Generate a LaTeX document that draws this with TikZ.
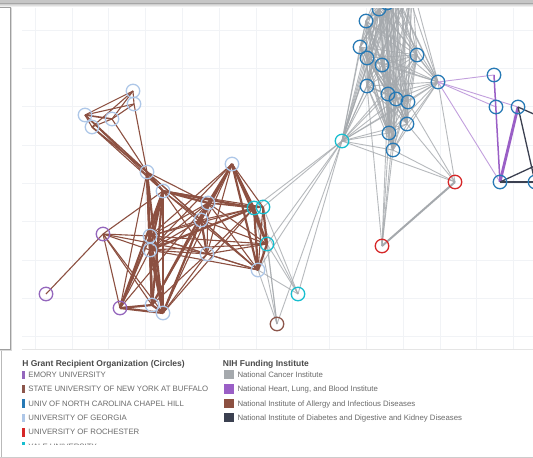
\documentclass[tikz,border=0pt]{standalone}
\usepackage{fontspec}
\setmainfont{Liberation Sans}
\usetikzlibrary{backgrounds}

\definecolor{emoryc}{HTML}{9467BD}
\definecolor{buffc}{HTML}{8C564B}
\definecolor{uncc}{HTML}{2679B5}
\definecolor{ugac}{HTML}{AEC7E8}
\definecolor{urc}{HTML}{D62728}
\definecolor{yalec}{HTML}{17BECF}
\definecolor{ncic}{HTML}{A5A9AD}
\definecolor{nhlbic}{HTML}{9A5FC6}
\definecolor{niaidc}{HTML}{8C5041}
\definecolor{niddkc}{HTML}{3B4050}
\definecolor{gridc}{HTML}{F1F3F6}
\definecolor{itemc}{HTML}{6B6B6B}
\definecolor{headc}{HTML}{4A4A4A}

\begin{document}
\begin{tikzpicture}[x=1pt,y=-1pt,line cap=round,
  org/.style={circle,draw,line width=1.3pt,minimum size=13.5pt,inner sep=0pt},
  emory/.style={org,draw=emoryc},
  buff/.style={org,draw=buffc},
  unc/.style={org,draw=uncc},
  uga/.style={org,draw=ugac},
  roch/.style={org,draw=urc},
  yale/.style={org,draw=yalec},
  nci/.style={ncic,line width=0.9pt,opacity=0.8},
  nciw/.style={ncic,line width=2pt},
  niaid/.style={niaidc,line width=1.1pt},
  niaidm/.style={niaidc,line width=1.6pt},
  niaidw/.style={niaidc,line width=2.2pt},
  nhlbi/.style={nhlbic!60,line width=0.9pt},
  nhlbiw/.style={nhlbic,line width=2.8pt},
  niddk/.style={niddkc,line width=1.3pt},
  legitem/.style={anchor=base west,inner sep=0pt,text=itemc,font=\fontsize{7.8}{9}\selectfont},
  leghead/.style={anchor=base west,inner sep=0pt,text=headc,font=\fontsize{8.5}{10}\selectfont\bfseries}]
\useasboundingbox (0,0) rectangle (533,458);

\begin{pgfonlayer}{background}
\fill[white] (0,0) rectangle (533,458);
\foreach \gx in {0,...,13} \draw[gridc,line width=0.6pt] ({35+36.8*\gx},5) -- ({35+36.8*\gx},349.5);
\foreach \gy in {0,...,8} \draw[gridc,line width=0.6pt] (22,{30+38.3*\gy}) -- (533,{30+38.3*\gy});
\draw[gray!20,line width=0.7pt] (22,349.5) -- (533,349.5);
\end{pgfonlayer}

\node[uga] (ga1) at (133,91) {};
\node[uga] (ga2) at (134,104) {};
\node[uga] (ga3) at (85,115) {};
\node[uga] (ga4) at (92,127) {};
\node[uga] (ga5) at (112,119) {};
\node[uga] (ga6) at (147,172) {};
\node[uga] (ga7) at (163,191) {};
\node[uga] (ga8) at (232,164) {};
\node[uga] (ga9) at (208,203) {};
\node[uga] (ga10) at (201,220) {};
\node[uga] (ga11) at (150,236) {};
\node[uga] (ga12) at (150,250) {};
\node[uga] (ga13) at (207,254) {};
\node[uga] (ga14) at (258,270) {};
\node[uga] (ga15) at (152,305) {};
\node[uga] (ga16) at (163,313) {};
\node[emory] (em1) at (103,234) {};
\node[emory] (em2) at (46,294) {};
\node[emory] (em3) at (120,308) {};
\node[yale] (yl1) at (254,208) {};
\node[yale] (yl2) at (263,207) {};
\node[yale] (yl3) at (267,244) {};
\node[yale] (yl4) at (298,294) {};
\node[yale] (yl5) at (342,141) {};
\node[buff] (sb1) at (277,324) {};
\node[unc] (nc1) at (379,9) {};
\node[unc] (nc2) at (387,3) {};
\node[unc] (nc3) at (366,21) {};
\node[unc] (nc4) at (360,47) {};
\node[unc] (nc5) at (367,58) {};
\node[unc] (nc6) at (382,65) {};
\node[unc] (nc7) at (417,55) {};
\node[unc] (nc8) at (367,86) {};
\node[unc] (nc9) at (438,82) {};
\node[unc] (nc10) at (388,94) {};
\node[unc] (nc11) at (396,99) {};
\node[unc] (nc12) at (408,102) {};
\node[unc] (nc13) at (407,124) {};
\node[unc] (nc14) at (389,133) {};
\node[unc] (nc15) at (393,150) {};
\node[unc] (nc16) at (494,75) {};
\node[unc] (nc17) at (496,107) {};
\node[unc] (nc18) at (518,107) {};
\node[unc] (nc19) at (500,182) {};
\node[unc] (nc20) at (535,182) {};
\node[roch] (ur1) at (455,182) {};
\node[roch] (ur2) at (382,246) {};
\coordinate (ncx1) at (385,-25);
\coordinate (ncx2) at (400,-30);
\coordinate (ncx3) at (412,-15);
\coordinate (ncx4) at (393,-12);
\coordinate (ndx1) at (565,128);
\coordinate (ndx2) at (565,152);

\begin{pgfonlayer}{background}
\begin{scope}
\clip (11,5) rectangle (533,349.5);
\foreach \a [count=\i] in {ncx1,ncx2,ncx3,ncx4,nc1,nc2,nc3,nc4,nc5,nc6,nc7,nc8,nc9,nc10,nc11,nc12,nc13,nc14,nc15,yl5}
  \foreach \b [count=\j] in {ncx1,ncx2,ncx3,ncx4,nc1,nc2,nc3,nc4,nc5,nc6,nc7,nc8,nc9,nc10,nc11,nc12,nc13,nc14,nc15,yl5}
    {\ifnum\j>\i \draw[nci] (\a.center) -- (\b.center);\fi}
\foreach \a/\b in {yl5/yl1,yl5/yl2,yl5/yl3,yl5/ga14,yl5/yl4,yl5/sb1,yl1/sb1,yl2/sb1,yl2/yl4,
    yl3/sb1,yl3/yl4,ga14/sb1,ga14/yl4,yl1/yl4,yl5/ur1,nc15/ur1,nc13/ur1,nc9/ur1,nc12/ur1,
    ur2/nc14,ur2/nc15,ur2/nc10,ur2/nc11,ur2/nc8}
  \draw[nci] (\a.center) -- (\b.center);
\draw[nciw] (ur1.center) -- (ur2.center);
\foreach \a/\b in {ga1/ga3,ga1/ga4,ga1/ga5,ga1/ga2,ga2/ga3,ga2/ga5,ga3/ga4,ga4/ga5,ga2/ga6,ga5/ga6,
    ga3/ga7,ga4/ga7,
    em2/em1,em1/ga7,em1/ga11,em1/ga12,em1/em3,em1/ga15,em1/ga16,em1/ga13,em3/ga12,em3/ga6,em3/ga9,
    ga6/ga9,ga6/ga10,ga7/ga10,ga7/ga13,ga7/ga14,ga7/yl2,ga8/ga13,ga8/yl2,ga8/ga16,ga8/ga11,ga8/ga12,
    ga9/ga11,ga9/ga12,ga9/ga13,ga9/yl1,ga9/yl2,ga9/yl3,ga9/ga14,ga10/ga11,ga10/ga12,ga10/yl1,
    ga10/yl3,ga10/ga14,ga10/ga15,ga11/yl1,ga11/ga13,ga11/ga14,ga12/ga13,ga12/yl3,ga12/ga14,
    ga13/yl1,ga13/yl3,ga13/ga14,ga13/ga15,ga13/ga16,ga16/ga9,ga16/yl1,yl1/yl2,yl2/ga14,ga6/ga14,ga11/yl3}
  \draw[niaid] (\a.center) -- (\b.center);
\foreach \a/\b in {ga3/ga5,ga3/ga6,ga4/ga6}
  \draw[niaidm] (\a.center) -- (\b.center);
\foreach \a/\b in {ga6/ga7,ga6/ga11,ga6/ga12,ga6/ga15,
    ga7/ga11,ga7/ga12,ga7/ga15,ga7/ga16,ga6/ga16,ga11/ga12,ga11/ga15,ga11/ga16,ga12/ga15,ga12/ga16,
    ga15/ga16,em3/ga15,em3/ga16,em3/ga11,em3/ga7,ga8/ga10,ga8/ga9,ga8/yl1,ga8/yl3,ga8/ga14,
    yl1/yl3,yl2/yl3,yl3/ga14,yl1/ga14,ga9/ga10,ga10/ga13,ga7/ga9,ga7/yl1,ga12/yl1,ga16/ga10,ga15/ga9}
  \draw[niaidw] (\a.center) -- (\b.center);
\foreach \a/\b in {nc9/nc16,nc9/nc17,nc9/nc18,nc9/nc19}
  \draw[nhlbi] (\a.center) -- (\b.center);
\draw[nhlbic,line width=1.5pt] (nc16.center) -- (nc19.center);
\draw[nhlbiw] (nc18.center) -- (nc19.center);
\foreach \a/\b in {nc18/ndx1,nc18/nc20,nc19/nc20,nc19/ndx2}
  \draw[niddk] (\a.center) -- (\b.center);
\end{scope}
\end{pgfonlayer}

\fill[gray!45] (0,0) rectangle (533,3.5);
\draw[gray!70,line width=0.8pt] (0,3.8) -- (533,3.8);
\shade[top color=gray!35,bottom color=white] (0,4.2) rectangle (533,7);
\fill[white] (0,7.3) rectangle (10.3,349.3);
\draw[gray!30,line width=1pt] (11.6,8) -- (11.6,350.6) -- (0,350.6);
\draw[gray!75,line width=0.8pt] (0,7.3) -- (10.3,7.3) -- (10.3,349.3) -- (0,349.3);
\draw[gray!55,line width=0.8pt] (1.7,351) -- (1.7,458);
\fill[gray!40] (0,456.8) rectangle (533,458);

\node[leghead] (orghead) at (22.1,366.5) {H Grant Recipient Organization (Circles)};
\foreach \c/\t [count=\k from 0] in {emoryc/EMORY UNIVERSITY,buffc/STATE UNIVERSITY OF NEW YORK AT BUFFALO,
    uncc/UNIV OF NORTH CAROLINA CHAPEL HILL,ugac/UNIVERSITY OF GEORGIA,urc/UNIVERSITY OF ROCHESTER}{
  \fill[\c] (21.8,{370.6+14.35*\k}) rectangle (24.5,{379.1+14.35*\k});
  \node[legitem] (org\k) at (28.2,{377.4+14.35*\k}) {\t};
}
\begin{scope}
\clip (0,436) rectangle (533,444);
\fill[yalec] (21.8,442.4) rectangle (24.5,451);
\node[legitem] (org5) at (28.2,449.2) {YALE UNIVERSITY};
\end{scope}

\node[leghead] (nihhead) at (222.7,366.5) {NIH Funding Institute};
\foreach \c/\t [count=\k from 0] in {ncic/National Cancer Institute,nhlbic/{National Heart, Lung, and Blood Institute},
    niaidc/National Institute of Allergy and Infectious Diseases,
    niddkc/National Institute of Diabetes and Digestive and Kidney Diseases}{
  \fill[\c] (223.7,{369.9+14.35*\k}) rectangle (233.9,{379.4+14.35*\k});
  \node[legitem] (nih\k) at (237.3,{377.4+14.35*\k}) {\t};
}
\end{tikzpicture}
\end{document}
